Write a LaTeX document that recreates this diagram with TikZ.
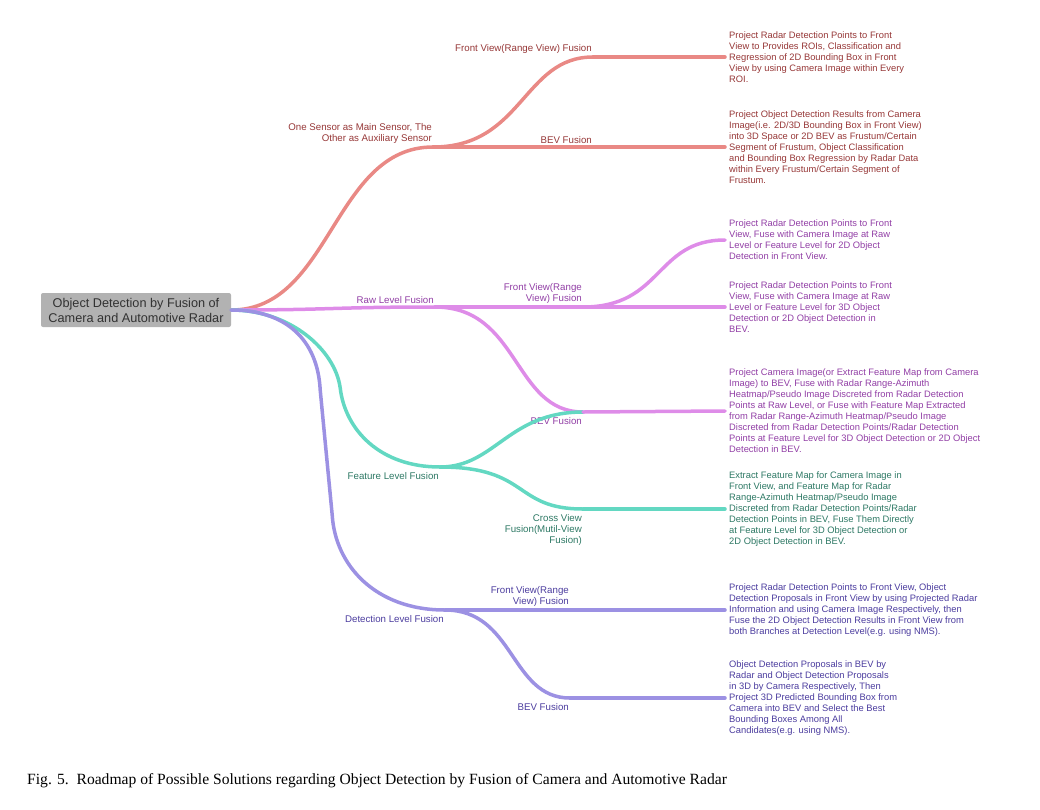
\documentclass[tikz,border=0pt]{standalone}
\usepackage{fontspec}
\setmainfont{Liberation Serif}
\newfontfamily\mapfont{Liberation Sans}
\usepackage{xcolor}
\usepackage{tikz}
\usetikzlibrary{positioning}
\definecolor{myred}{RGB}{233, 137, 133}
\definecolor{myredtext}{RGB}{150, 55, 55}
\definecolor{mypink}{RGB}{222, 140, 232}
\definecolor{mypinktext}{RGB}{145, 62, 165}
\definecolor{myteal}{RGB}{99, 216, 194}
\definecolor{mytealtext}{RGB}{45, 120, 100}
\definecolor{mypurple}{RGB}{156, 145, 227}
\definecolor{mypurpletext}{RGB}{75, 60, 158}
\definecolor{rootgray}{RGB}{178, 178, 178}
\definecolor{roottext}{RGB}{50, 50, 50}

\begin{document}
\begin{tikzpicture}[x=1pt, y=-1pt,
    branch/.style={line width=3.5pt, line cap=round},
    leaf/.style={anchor=west, align=left, inner xsep=4pt, inner ysep=0pt, font=\mapfont\fontsize{9.35}{11}\selectfont},
    lblup/.style={anchor=south east, align=right, inner xsep=1pt, inner ysep=3.5pt, font=\mapfont\fontsize{9.7}{11}\selectfont},
    lbldown/.style={anchor=north east, align=right, inner xsep=1pt, inner ysep=5pt, font=\mapfont\fontsize{9.7}{11}\selectfont}]
    \useasboundingbox (0,0) rectangle (1040,809);

    % root
    \node[fill=rootgray, rounded corners=2pt, minimum width=190pt, minimum height=34pt, align=center,
        text=roottext, font=\mapfont\fontsize{12.7}{15}\selectfont] (root) at (136,310) {Object Detection by Fusion of\\Camera and Automotive Radar};

    % one sensor as main sensor
    \coordinate (main) at (433,147);
    \coordinate (mainfv) at (593,57);
    \coordinate (mainbev) at (593,147);
    \node[lblup, text=myredtext] (mainlbl) at (main) {One Sensor as Main Sensor, The\\Other as Auxiliary Sensor};
    \node[lblup, text=myredtext] (mainfvlbl) at (mainfv) {Front View(Range View) Fusion};
    \node[lblup, text=myredtext] (mainbevlbl) at (mainbev) {BEV Fusion};
    \node[leaf, text=myredtext] (leafa) at (725,57) {Project Radar Detection Points to Front\\View to Provides ROIs, Classification and\\Regression of 2D Bounding Box in Front\\View by using Camera Image within Every\\ROI.};
    \node[leaf, text=myredtext] (leafb) at (725,147) {Project Object Detection Results from Camera\\Image(i.e. 2D/3D Bounding Box in Front View)\\into 3D Space or 2D BEV as Frustum/Certain\\Segment of Frustum, Object Classification\\and Bounding Box Regression by Radar Data\\within Every Frustum/Certain Segment of\\Frustum.};
    \draw[branch, myred] (root.east) .. controls +(100,0) and +(-100,0) .. (main);
    \draw[branch, myred] (main) .. controls +(90,0) and +(-70,0) .. (mainfv);
    \draw[branch, myred] (main) -- (mainbev);
    \draw[branch, myred] (mainfv) -- (leafa.west);
    \draw[branch, myred] (mainbev) -- (leafb.west);

    % raw level fusion
    \coordinate (raw) at (435,307);
    \coordinate (rawfv) at (583,307);
    \coordinate (rawbev) at (583,412);
    \node[lblup, text=mypinktext] (rawlbl) at (raw) {Raw Level Fusion};
    \node[lblup, text=mypinktext] (rawfvlbl) at (rawfv) {Front View(Range\\View) Fusion};
    \node[lbldown, text=mypinktext] (rawbevlbl) at (rawbev) {BEV Fusion};
    \node[leaf, text=mypinktext] (leafc) at (725,240) {Project Radar Detection Points to Front\\View, Fuse with Camera Image at Raw\\Level or Feature Level for 2D Object\\Detection in Front View.};
    \node[leaf, text=mypinktext] (leafd) at (725,307) {Project Radar Detection Points to Front\\View, Fuse with Camera Image at Raw\\Level or Feature Level for 3D Object\\Detection or 2D Object Detection in\\BEV.};
    \node[leaf, text=mypinktext] (leafe) at (725,411) {Project Camera Image(or Extract Feature Map from Camera\\Image) to BEV, Fuse with Radar Range-Azimuth\\Heatmap/Pseudo Image Discreted from Radar Detection\\Points at Raw Level, or Fuse with Feature Map Extracted\\from Radar Range-Azimuth Heatmap/Pseudo Image\\Discreted from Radar Detection Points/Radar Detection\\Points at Feature Level for 3D Object Detection or 2D Object\\Detection in BEV.};
    \draw[branch, mypink] (root.east) .. controls +(100,0) and +(-100,0) .. (raw);
    \draw[branch, mypink] (raw) -- (rawfv);
    \draw[branch, mypink] (raw) .. controls +(85,0) and +(-70,0) .. (rawbev);
    \draw[branch, mypink] (rawfv) .. controls +(80,0) and +(-70,0) .. (leafc.west);
    \draw[branch, mypink] (rawfv) -- (leafd.west);

    % feature level fusion
    \coordinate (feat) at (440,467);
    \coordinate (featcv) at (583,509);
    \node[lbldown, text=mytealtext] (featlbl) at (feat) {Feature Level Fusion};
    \node[lbldown, text=mytealtext] (featcvlbl) at (featcv) {Cross View\\Fusion(Mutil-View\\Fusion)};
    \node[leaf, text=mytealtext] (leaff) at (725,509) {Extract Feature Map for Camera Image in\\Front View, and Feature Map for Radar\\Range-Azimuth Heatmap/Pseudo Image\\Discreted from Radar Detection Points/Radar\\Detection Points in BEV, Fuse Them Directly\\at Feature Level for 3D Object Detection or\\2D Object Detection in BEV.};
    \draw[branch, myteal] (root.east) .. controls +(59,0) and +(-5,-38) .. ++(109,78)
        .. controls +(5,42) and +(-60,0) .. (feat);
    \draw[branch, myteal] (feat) .. controls +(55,0) and +(-75,0) .. (rawbev);
    \draw[branch, myteal] (feat) .. controls +(90,0) and +(-70,0) .. (featcv);
    \draw[branch, myteal] (featcv) -- (leaff.west);
    \draw[branch, mypink] (rawbev) -- (leafe.west);

    % detection level fusion
    \coordinate (det) at (445,610);
    \coordinate (detfv) at (570,610);
    \coordinate (detbev) at (570,698);
    \node[lbldown, text=mypurpletext] (detlbl) at (det) {Detection Level Fusion};
    \node[lblup, text=mypurpletext] (detfvlbl) at (detfv) {Front View(Range\\View) Fusion};
    \node[lbldown, text=mypurpletext] (detbevlbl) at (detbev) {BEV Fusion};
    \node[leaf, text=mypurpletext] (leafg) at (725,610) {Project Radar Detection Points to Front View, Object\\Detection Proposals in Front View by using Projected Radar\\Information and using Camera Image Respectively, then\\Fuse the 2D Object Detection Results in Front View from\\both Branches at Detection Level(e.g. using NMS).};
    \node[leaf, text=mypurpletext] (leafh) at (725,698) {Object Detection Proposals in BEV by\\Radar and Object Detection Proposals\\in 3D by Camera Respectively, Then\\Project 3D Predicted Bounding Box from\\Camera into BEV and Select the Best\\Bounding Boxes Among All\\Candidates(e.g. using NMS).};
    \draw[branch, mypurple] (root.east) .. controls +(55,0) and +(-2.5,-50) .. ++(89,80)
        -- ++(12,125) .. controls +(3,50) and +(-70,0) .. (det);
    \draw[branch, mypurple] (det) -- (detfv);
    \draw[branch, mypurple] (det) .. controls +(70,0) and +(-60,0) .. (detbev);
    \draw[branch, mypurple] (detfv) -- (leafg.west);
    \draw[branch, mypurple] (detbev) -- (leafh.west);

    % caption
    \node[anchor=base west, inner sep=0pt, font=\fontsize{15.6}{18}\selectfont] (caption) at (27,784) {Fig. 5.\ \ Roadmap of Possible Solutions regarding Object Detection by Fusion of Camera and Automotive Radar};
\end{tikzpicture}
\end{document}
